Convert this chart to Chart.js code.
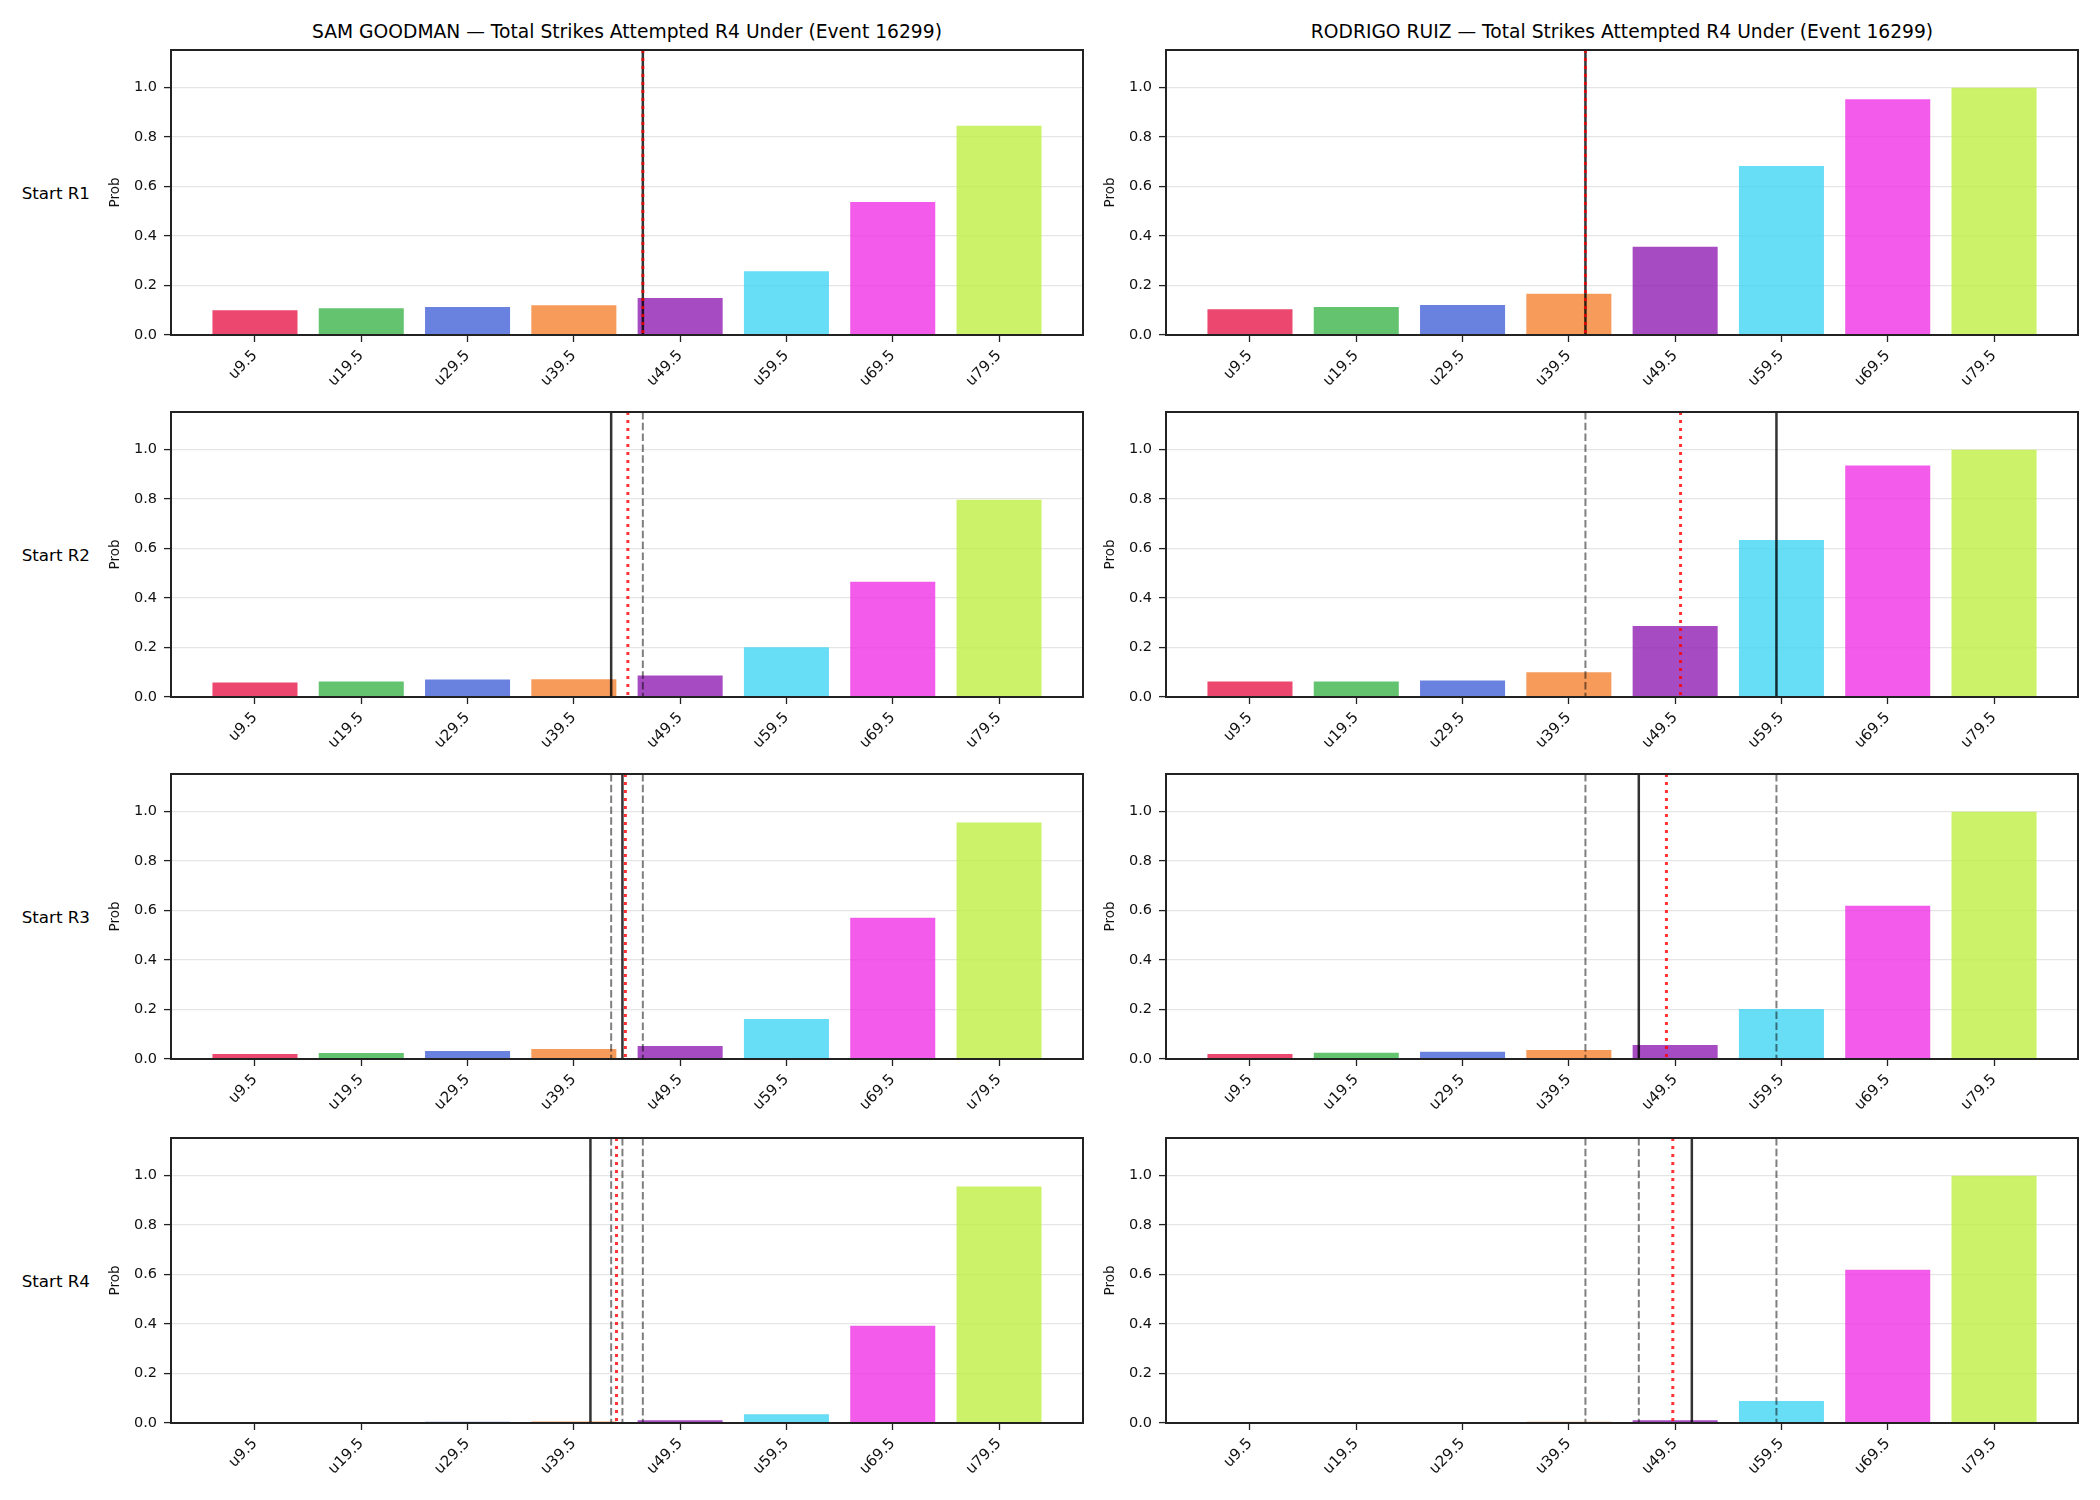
<!DOCTYPE html>
<html>
<head>
<meta charset="utf-8">
<title>Total Strikes Attempted R4 Under (Event 16299)</title>
<script src="https://cdn.jsdelivr.net/npm/chart.js@4.4.1/dist/chart.umd.min.js"></script>
<style>
  body { margin: 0; background: #fff; font-family: 'DejaVu Sans', sans-serif; }
  #page { position: relative; width: 2100px; height: 1500px; overflow: hidden; }
  #page canvas { position: absolute; }
  .panel-title { position: absolute; top: 20px; font-size: 18.7px; line-height: 24px; color: #000; text-align: center; white-space: nowrap; }
  .row-label { position: absolute; left: 0; width: 90px; font-size: 16.7px; line-height: 20px; color: #000; text-align: right; white-space: nowrap; }
</style>
</head>
<body>
<div id="page"></div>
<script>
/* Strike-count ladders, one panel per fighter and round */

const categories = ['u9.5', 'u19.5', 'u29.5', 'u39.5', 'u49.5', 'u59.5', 'u69.5', 'u79.5'];
const yTicks = [0, 0.2, 0.4, 0.6, 0.8, 1.0];
const barColors = ['#e6194b', '#3cb44b', '#4363d8', '#f58231', '#911eb4', '#42d4f4', '#f032e6', '#bfef45'];
const rounds = ['Start R1', 'Start R2', 'Start R3', 'Start R4'];
const fighters = ['SAM GOODMAN', 'RODRIGO RUIZ'];

// P(under) per threshold
const samR1 = [0.100, 0.108, 0.113, 0.120, 0.149, 0.257, 0.537, 0.844];
const samR2 = [0.059, 0.063, 0.071, 0.072, 0.087, 0.201, 0.465, 0.796];
const samR3 = [0.020, 0.024, 0.032, 0.040, 0.052, 0.161, 0.570, 0.954];
const samR4 = [0.0005, 0.002, 0.005, 0.006, 0.011, 0.035, 0.392, 0.954];
const rodR1 = [0.104, 0.113, 0.121, 0.166, 0.356, 0.682, 0.951, 0.998];
const rodR2 = [0.063, 0.063, 0.067, 0.100, 0.286, 0.634, 0.934, 0.998];
const rodR3 = [0.020, 0.025, 0.029, 0.036, 0.056, 0.202, 0.618, 0.998];
const rodR4 = [0.0003, 0.001, 0.002, 0.005, 0.011, 0.089, 0.618, 0.998];

// marker lines, in x-axis units (0 = u9.5 ... 7 = u79.5)
const samLine = [3.649, 3.351, 3.457, 3.156];
const samMean = [3.649, 3.508, 3.485, 3.401];
const rodLine = [3.156, 4.953, 3.658, 4.157];
const rodMean = [3.156, 4.051, 3.918, 3.978];

const panels = [
  [samR1, samR2, samR3, samR4],
  [rodR1, rodR2, rodR3, rodR4]
];
const lines = [samLine, rodLine];
const means = [samMean, rodMean];

// page layout (plot area of each panel)
const colLeft = [171, 1166];
const rowTop = [50, 412, 774, 1138];
const plotW = 912;
const plotH = 285;
const axisW = 70;
const axisH = 70;
const padTop = 10;
const padRight = 10;

const FONT = "'DejaVu Sans', sans-serif";

function hexToRgba(hex, a) {
  const n = parseInt(hex.slice(1), 16);
  return `rgba(${(n >> 16) & 255}, ${(n >> 8) & 255}, ${n & 255}, ${a})`;
}

function fixSize(scale) {
  if (scale.isHorizontal()) scale.height = axisH;
  else scale.width = axisW;
  scale.paddingTop = 0;
  scale.paddingBottom = 0;
  scale.paddingLeft = 0;
  scale.paddingRight = 0;
}

const vlinePlugin = {
  id: 'vlines',
  afterDatasetsDraw(chart, args, opts) {
    const { ctx, chartArea: { top, bottom }, scales: { x } } = chart;
    const draw = (val, color, width, dash) => {
      const px = x.getPixelForValue(val);
      ctx.save();
      ctx.strokeStyle = color;
      ctx.lineWidth = width;
      ctx.setLineDash(dash);
      ctx.beginPath();
      ctx.moveTo(px, top);
      ctx.lineTo(px, bottom);
      ctx.stroke();
      ctx.restore();
    };
    (opts.prev || []).forEach(v => draw(v, 'rgba(0, 0, 0, 0.5)', 2, [7.5, 3.3]));
    draw(opts.line, 'rgba(0, 0, 0, 0.8)', 2.5, []);
    draw(opts.mean, 'rgba(255, 0, 0, 0.8)', 3, [3, 5]);
  }
};

const framePlugin = {
  id: 'frame',
  afterDraw(chart) {
    const { ctx, chartArea: a } = chart;
    ctx.save();
    ctx.strokeStyle = '#222';
    ctx.lineWidth = 2;
    ctx.strokeRect(a.left, a.top, a.right - a.left, a.bottom - a.top);
    ctx.restore();
  }
};

const page = document.getElementById('page');

fighters.forEach((name, c) => {
  const t = document.createElement('div');
  t.className = 'panel-title';
  t.textContent = `${name} — Total Strikes Attempted R4 Under (Event 16299)`;
  t.style.left = (colLeft[c] - 300) + 'px';
  t.style.width = (plotW + 600) + 'px';
  page.appendChild(t);
});

rounds.forEach((label, r) => {
  const d = document.createElement('div');
  d.className = 'row-label';
  d.textContent = label;
  d.style.top = (rowTop[r] + plotH / 2 - 10) + 'px';
  page.appendChild(d);
});

fighters.forEach((name, c) => {
  rounds.forEach((label, r) => {
    const canvas = document.createElement('canvas');
    canvas.width = axisW + plotW + padRight;
    canvas.height = padTop + plotH + axisH;
    canvas.style.left = (colLeft[c] - axisW) + 'px';
    canvas.style.top = (rowTop[r] - padTop) + 'px';
    page.appendChild(canvas);

    const values = panels[c][r];

    new Chart(canvas, {
      type: 'bar',
      data: {
        datasets: [{
          data: values.map((v, i) => ({ x: i, y: v })),
          backgroundColor: barColors.map(col => hexToRgba(col, 0.8)),
          borderWidth: 0,
          categoryPercentage: 1,
          barPercentage: 0.8
        }]
      },
      options: {
        responsive: false,
        animation: false,
        devicePixelRatio: 1,
        layout: { padding: { top: padTop, right: padRight, left: 0, bottom: 0 } },
        plugins: {
          legend: { display: false },
          tooltip: { enabled: false },
          vlines: {
            line: lines[c][r],
            mean: means[c][r],
            prev: lines[c].slice(0, r)
          }
        },
        scales: {
          x: {
            type: 'linear',
            min: -0.79,
            max: 7.79,
            offset: false,
            afterBuildTicks: s => { s.ticks = categories.map((cat, i) => ({ value: i })); },
            afterFit: fixSize,
            ticks: {
              callback: v => categories[v],
              minRotation: 45,
              maxRotation: 45,
              padding: 5,
              color: '#111',
              font: { family: FONT, size: 15 }
            },
            grid: { offset: false, drawOnChartArea: false, tickLength: 7, tickColor: '#222', tickWidth: 1.3 },
            border: { display: false }
          },
          y: {
            min: 0,
            max: 1.15,
            afterBuildTicks: s => { s.ticks = yTicks.map(v => ({ value: v })); },
            afterFit: fixSize,
            ticks: {
              callback: v => v.toFixed(1),
              padding: 7,
              color: '#111',
              font: { family: FONT, size: 14.5 }
            },
            grid: { color: '#e5e5e5', lineWidth: 1.2, tickLength: 7, tickColor: '#222', tickWidth: 1.3 },
            border: { display: false },
            title: {
              display: true,
              text: 'Prob',
              color: '#111',
              padding: { top: 6.5, bottom: 0 },
              font: { family: FONT, size: 13.5 }
            }
          }
        }
      },
      plugins: [vlinePlugin, framePlugin]
    });
  });
});
</script>
</body>
</html>
